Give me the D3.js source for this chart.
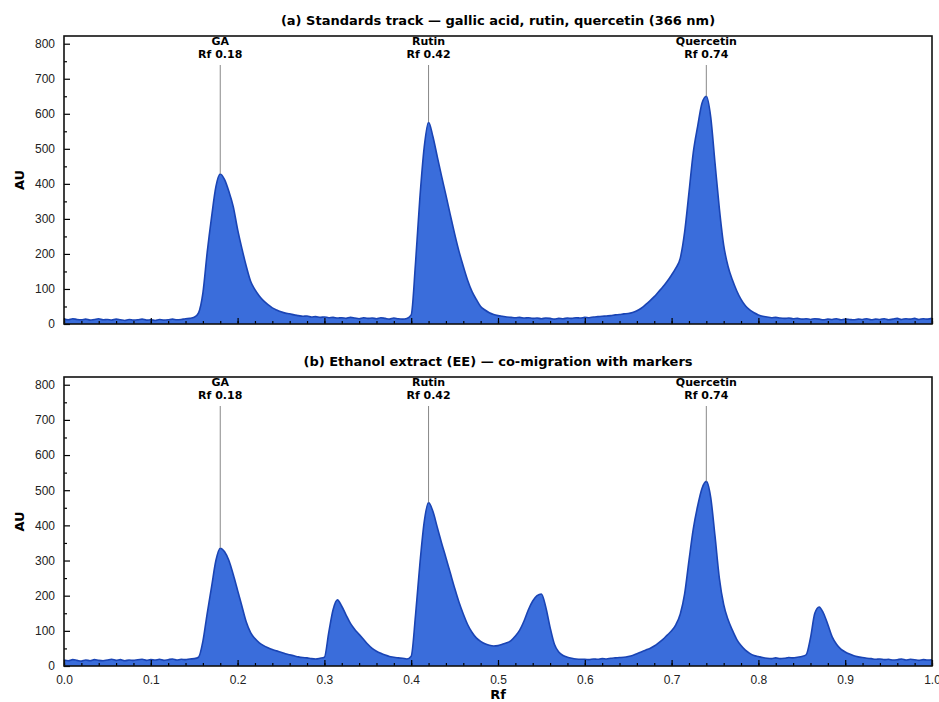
<!DOCTYPE html>
<head>
<meta charset="utf-8">
<script src="https://cdn.jsdelivr.net/npm/d3@7"></script>
<style type="text/css">
    body { margin: 0; background: #fff; }
    svg { font-family: "DejaVu Sans", sans-serif; }
    .title { font-size: 13px; font-weight: bold; }
    .peaklab { font-size: 11px; font-weight: bold; }
    .axlab { font-size: 13px; font-weight: bold; }
    .tick text { font-size: 12px; fill: #222; }
</style>
</head>
<body>
<div id="chart"></div>
</body>
</html>

<script type="text/javascript">
// Rf grid step for both densitograms (0.000 .. 1.000)
var rfStep = 0.005;

// (a) standards track, AU at each Rf step
var standardsAU = [
  14, 12, 15, 13, 12, 14, 11, 13, 15, 12,
  13, 11, 14, 12, 10, 13, 11, 12, 14, 11,
  12, 10, 13, 11, 12, 14, 12, 13, 15, 16,
  19, 32, 88, 205, 305, 392, 428, 412, 378, 335,
  270, 215, 165, 122, 98, 80, 66, 55, 46, 40,
  35, 31, 29, 26, 24, 22, 23, 20, 21, 19,
  20, 18, 19, 17, 18, 16, 19, 17, 15, 18,
  16, 17, 15, 18, 16, 14, 17, 15, 14, 16,
  26, 175, 360, 505, 576, 535, 478, 422, 368, 312,
  258, 208, 165, 125, 93, 70, 50, 40, 32, 27,
  24, 22, 20, 19, 18, 19, 17, 18, 16, 17,
  15, 17, 16, 14, 16, 15, 17, 16, 18, 17,
  19, 18, 20, 21, 22, 23, 24, 26, 27, 29,
  30, 33, 38, 45, 55, 66, 78, 92, 106, 122,
  140, 160, 188, 262, 375, 490, 564, 630, 650, 592,
  460, 330, 225, 165, 126, 95, 70, 52, 40, 32,
  26, 22, 20, 18, 19, 17, 16, 17, 15, 16,
  14, 15, 13, 15, 14, 12, 14, 13, 15, 12,
  14, 13, 12, 14, 13, 15, 12, 14, 13, 15,
  12, 14, 16, 13, 15, 14, 16, 13, 15, 14,
  16
];

// (b) ethanol extract, AU at each Rf step
var extractAU = [
  17, 15, 18, 16, 14, 17, 15, 18, 16, 15,
  17, 19, 16, 18, 15, 17, 16, 18, 19, 16,
  18, 17, 19, 16, 18, 20, 17, 19, 18, 20,
  21, 25, 70, 150, 225, 300, 335, 325, 300, 260,
  215, 170, 125, 95, 78, 66, 58, 52, 47, 43,
  39, 35, 32, 29, 26, 24, 23, 21, 20, 22,
  25, 95, 160, 188, 170, 145, 121, 104, 90, 76,
  62, 50, 42, 36, 31, 27, 25, 23, 22, 20,
  28, 145, 290, 410, 465, 440, 395, 350, 308, 265,
  222, 182, 148, 118, 96, 80, 70, 63, 59, 57,
  58, 62, 66, 72, 85, 102, 128, 160, 185, 200,
  205, 168, 110, 62, 40, 30, 25, 22, 20, 19,
  19, 18, 20, 19, 21, 20, 22, 23, 24, 25,
  27, 30, 35, 40, 45, 50, 57, 66, 76, 88,
  100, 118, 148, 205, 300, 390, 455, 505, 525, 480,
  370, 250, 175, 132, 102, 76, 58, 45, 36, 30,
  27, 24, 22, 21, 23, 21, 22, 24, 23, 25,
  27, 32, 80, 150, 168, 150, 118, 83, 62, 48,
  40, 34, 29, 26, 24, 22, 21, 19, 20, 18,
  19, 17, 18, 20, 17, 19, 18, 16, 18, 17,
  18
];

var panelTitles = [
  "(a) Standards track \u2014 gallic acid, rutin, quercetin (366 nm)",
  "(b) Ethanol extract (EE) \u2014 co-migration with markers"
];
var markerNames = ["GA", "Rutin", "Quercetin"];
var markerRf = [0.18, 0.42, 0.74];
var xTicks = [0, 0.1, 0.2, 0.3, 0.4, 0.5, 0.6, 0.7, 0.8, 0.9, 1.0];
var yTicks = [0, 100, 200, 300, 400, 500, 600, 700, 800];

var width = 939, height = 702;
var left = 64, right = 932;
var panels = [
    { top: 36, bottom: 324, values: standardsAU, title: panelTitles[0], labels: false },
    { top: 377, bottom: 666, values: extractAU, title: panelTitles[1], labels: true }
];

var svg = d3.select("#chart").append("svg")
    .attr("width", width)
    .attr("height", height);

var x = d3.scaleLinear().domain([0, 1]).range([left, right]);

panels.forEach(function(p) {
    var data = p.values.map(function(v, i) { return { rf: i * rfStep, au: v }; });
    var y = d3.scaleLinear().domain([0, 822]).range([p.bottom, p.top]);

    var g = svg.append("g");

    // filled trace
    g.append("path")
        .datum(data)
        .attr("fill", "#3a6ddb")
        .attr("d", d3.area()
            .curve(d3.curveMonotoneX)
            .x(function(d) { return x(d.rf); })
            .y0(y(0))
            .y1(function(d) { return y(d.au); }));

    g.append("path")
        .datum(data)
        .attr("fill", "none")
        .attr("stroke", "#1a44b4")
        .attr("stroke-width", 1.6)
        .attr("d", d3.line()
            .curve(d3.curveMonotoneX)
            .x(function(d) { return x(d.rf); })
            .y(function(d) { return y(d.au); }));

    // marker annotations
    markerRf.forEach(function(rf, k) {
        var peak = p.values[Math.round(rf / rfStep)];
        g.append("line")
            .attr("x1", x(rf)).attr("x2", x(rf))
            .attr("y1", p.top + 29).attr("y2", y(peak))
            .attr("stroke", "#888")
            .attr("stroke-width", 1);
        var t = g.append("text")
            .attr("class", "peaklab")
            .attr("text-anchor", "middle")
            .attr("x", x(rf));
        t.append("tspan").attr("x", x(rf)).attr("y", p.top + 9).text(markerNames[k]);
        t.append("tspan").attr("x", x(rf)).attr("y", p.top + 22).text("Rf " + rf.toFixed(2));
    });

    // axes, ticks pointing inwards
    var xAxis = d3.axisBottom(x).tickValues(xTicks).tickSize(-6).tickPadding(9)
        .tickFormat(p.labels ? d3.format(".1f") : "");
    var xMinor = d3.axisBottom(x).tickValues(d3.range(0, 1.001, 0.02)).tickSize(-3).tickFormat("");
    var yAxis = d3.axisLeft(y).tickValues(yTicks).tickSize(-6).tickPadding(9);
    var yMinor = d3.axisLeft(y).tickValues(d3.range(50, 801, 100)).tickSize(-3).tickFormat("");

    [xMinor, xAxis].forEach(function(ax) {
        g.append("g").attr("transform", "translate(0," + p.bottom + ")").call(ax)
            .call(function(s) { s.select(".domain").remove(); })
            .selectAll("line").attr("stroke", "#000").attr("stroke-width", 1.2);
    });
    [yMinor, yAxis].forEach(function(ax) {
        g.append("g").attr("transform", "translate(" + left + ",0)").call(ax)
            .call(function(s) { s.select(".domain").remove(); })
            .selectAll("line").attr("stroke", "#000").attr("stroke-width", 1.2);
    });

    // frame
    g.append("rect")
        .attr("x", left).attr("y", p.top)
        .attr("width", right - left).attr("height", p.bottom - p.top)
        .attr("fill", "none")
        .attr("stroke", "#111")
        .attr("stroke-width", 1.6);

    g.append("text")
        .attr("class", "title")
        .attr("text-anchor", "middle")
        .attr("x", (left + right) / 2)
        .attr("y", p.top - 11)
        .text(p.title);

    g.append("text")
        .attr("class", "axlab")
        .attr("text-anchor", "middle")
        .attr("transform", "translate(24," + ((p.top + p.bottom) / 2) + ") rotate(-90)")
        .text("AU");
});

svg.append("text")
    .attr("class", "axlab")
    .attr("text-anchor", "middle")
    .attr("x", (left + right) / 2)
    .attr("y", 699)
    .text("Rf");
</script>
